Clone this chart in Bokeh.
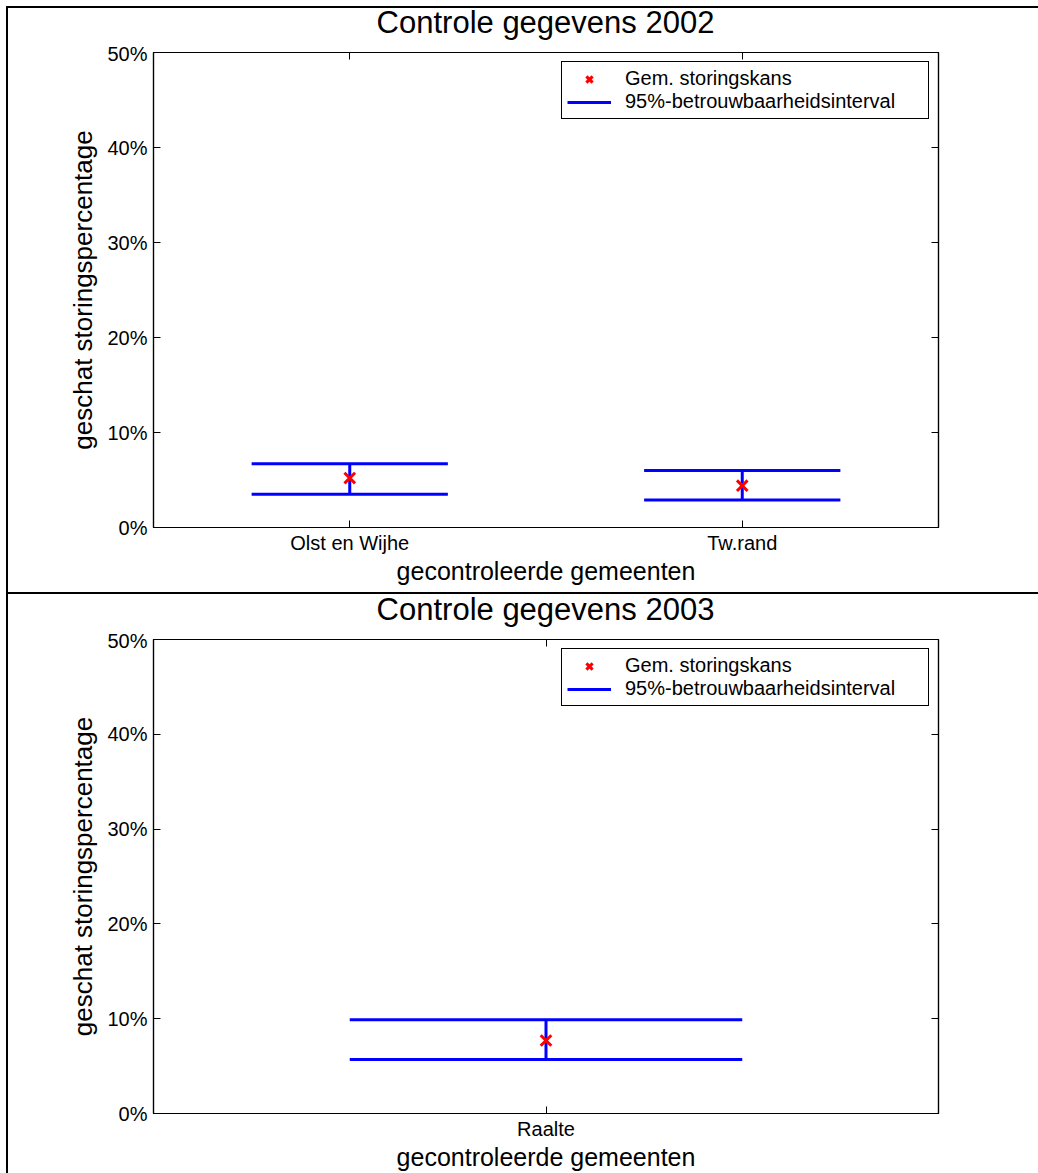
from bokeh.plotting import figure
from bokeh.layouts import column
from bokeh.models import (FixedTicker, PrintfTickFormatter, LinearAxis, Range1d,
                          Legend, LegendItem, Div, ColumnDataSource)
from bokeh.embed import file_html
from bokeh.resources import INLINE

# ---- data ----
title_2002 = "Controle gegevens 2002"
cats_2002 = ["Olst en Wijhe", "Tw.rand"]
mean_2002 = [5.2, 4.4]
lower_2002 = [3.5, 2.9]
upper_2002 = [6.7, 6.0]

title_2003 = "Controle gegevens 2003"
cats_2003 = ["Raalte"]
mean_2003 = [7.7]
lower_2003 = [5.7]
upper_2003 = [9.9]

y_ticks = [0, 10, 20, 30, 40, 50]
x_label = "gecontroleerde gemeenten"
y_label = "geschat storingspercentage"
legend_mean = "Gem. storingskans"
legend_ci = "95%-betrouwbaarheidsinterval"

FONT = "Liberation Sans"
HALF = 0.25
W = 1030
BL, BR = 145, 100          # left / right borders around the frame


def make_title(title, head_h, line_h):
    html = ('<div style="width:%dpx;margin-left:%dpx;text-align:center;'
            'font-family:\'%s\';font-size:31px;line-height:%dpx;color:black;'
            'white-space:nowrap">%s</div>') % (W - BL - BR, BL, FONT, line_h, title)
    return Div(text=html, width=W, height=head_h, margin=(0, 0, 0, 0))


def make_panel(cats, mean, lower, upper, height, b_top, b_bottom):
    n = len(cats)
    xs = [i + 1 for i in range(n)]
    xr = Range1d(0.5, n + 0.5)
    yr = Range1d(y_ticks[0], y_ticks[-1])
    p = figure(width=W, height=height, output_backend="svg", toolbar_location=None,
               x_range=xr, y_range=yr, title=None,
               min_border_left=BL, min_border_right=BR,
               min_border_top=b_top, min_border_bottom=b_bottom)
    p.xgrid.visible = False
    p.ygrid.visible = False
    p.outline_line_color = "black"
    p.outline_line_width = 1.2
    p.background_fill_color = "white"
    p.border_fill_color = "white"

    src = ColumnDataSource(dict(
        x=xs, x0=[x - HALF for x in xs], x1=[x + HALF for x in xs],
        mean=mean, lower=lower, upper=upper))

    r_up = p.segment(x0="x0", y0="upper", x1="x1", y1="upper", source=src,
                     line_color="#0000ff", line_width=3)
    p.segment(x0="x0", y0="lower", x1="x1", y1="lower", source=src,
              line_color="#0000ff", line_width=3)
    p.segment(x0="x", y0="lower", x1="x", y1="upper", source=src,
              line_color="#0000ff", line_width=3)
    r_mean = p.scatter(x="x", y="mean", source=src, marker="x", size=15,
                       line_color="#ff0000", line_width=3)

    overrides = {x: c for x, c in zip(xs, cats)}

    def style(ax, labels=True):
        ax.axis_line_color = "black"
        ax.axis_line_width = 1.2
        ax.major_tick_in = 7
        ax.major_tick_out = 0
        ax.major_tick_line_color = "black"
        ax.minor_tick_line_color = None
        ax.major_label_text_font = FONT
        ax.major_label_text_font_size = "20px"
        ax.major_label_text_color = "black" if labels else None
        ax.axis_label_text_font = FONT
        ax.axis_label_text_font_size = "25px"
        ax.axis_label_text_font_style = "normal"
        ax.axis_label_text_color = "black"

    xa = p.xaxis[0]
    xa.ticker = FixedTicker(ticks=xs)
    xa.major_label_overrides = overrides
    xa.axis_label = x_label
    style(xa)
    xa.major_label_standoff = 4
    xa.axis_label_standoff = 0

    ya = p.yaxis[0]
    ya.ticker = FixedTicker(ticks=y_ticks)
    ya.formatter = PrintfTickFormatter(format="%d%%")
    ya.axis_label = y_label
    style(ya)
    ya.axis_label_text_font_size = "26px"
    ya.major_label_standoff = 6
    ya.axis_label_standoff = 6

    top = LinearAxis(ticker=FixedTicker(ticks=xs))
    style(top, labels=False)
    top.major_label_text_font_size = "0px"
    top.major_label_standoff = 0
    p.add_layout(top, "above")
    right = LinearAxis(ticker=FixedTicker(ticks=y_ticks))
    style(right, labels=False)
    right.major_label_text_font_size = "0px"
    right.major_label_standoff = 0
    p.add_layout(right, "right")

    leg = Legend(items=[LegendItem(label=legend_mean, renderers=[r_mean]),
                        LegendItem(label=legend_ci, renderers=[r_up])],
                 location="top_right")
    leg.margin = 9
    leg.padding = 5
    leg.spacing = 0
    leg.glyph_width = 44
    leg.glyph_height = 22
    leg.label_height = 22
    leg.label_width = 298
    leg.label_standoff = 14
    leg.label_text_font = FONT
    leg.label_text_font_size = "20px"
    leg.label_text_color = "black"
    leg.border_line_color = "black"
    leg.border_line_width = 1
    leg.border_line_alpha = 1
    leg.background_fill_color = "white"
    leg.background_fill_alpha = 1
    p.add_layout(leg, "center")
    return p


h1 = make_title(title_2002, 34, 30)
p1 = make_panel(cats_2002, mean_2002, lower_2002, upper_2002, 550, 10, 65)
sep = Div(width=W, height=2, margin=(0, 0, 0, 0),
          styles={"background-color": "black"})
h2 = make_title(title_2003, 35, 32)
p2 = make_panel(cats_2003, mean_2003, lower_2003, upper_2003, 544, 10, 60)

layout = column(h1, p1, sep, h2, p2, spacing=0,
                styles={"border-left": "2px solid black", "border-top": "2px solid black",
                        "margin-left": "6px", "margin-top": "6px"})

open("out.html", "w").write(file_html(layout, INLINE))
